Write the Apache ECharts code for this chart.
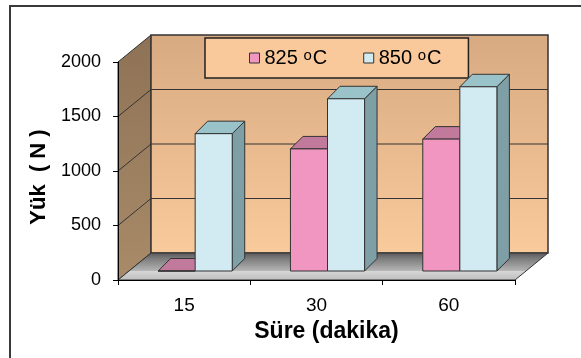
<!DOCTYPE html>
<html>
<head>
<meta charset="utf-8">
<script src="https://cdn.jsdelivr.net/npm/echarts@6/dist/echarts.min.js"></script>
<style>html,body{margin:0;padding:0;background:#fff}#c{width:581px;height:358px}</style>
</head>
<body>
<div id="c"></div>
<script>
const categories = ['15', '30', '60'];
const load825 = [0, 1120, 1210];
const load850 = [1260, 1580, 1690];
const yTicks = [0, 500, 1000, 1500, 2000];
const seriesNames = ['825 °C', '850 °C'];

// styling constants (3D look)
const WALL_DEPTH = [33, -27];
const BAR_SHIFT = [11, -9];
const BAR_DEPTH = [12.5, -12.5];
const BAR_FRAC = 0.28;
const FONT = '"Liberation Sans", Arial, sans-serif';
const EDGE = '#333';

const G = echarts.graphic.LinearGradient;

function renderWalls(params, api) {
  const cs = params.coordSys;
  const x0 = cs.x, x1 = cs.x + cs.width;
  const yBase = api.coord([0, yTicks[0]])[1];
  const yTop = api.coord([0, yTicks[yTicks.length - 1]])[1];
  const dx = WALL_DEPTH[0], dy = WALL_DEPTH[1];
  const ch = [];
  ch.push({type: 'polygon', shape: {points: [[x0, yTop], [x0 + dx, yTop + dy], [x0 + dx, yBase + dy], [x0, yBase]]},
    style: {fill: new G(0, 0, 0, 1, [{offset: 0, color: '#8e7255'}, {offset: 1, color: '#a98b69'}]), stroke: EDGE, lineWidth: 1}});
  ch.push({type: 'polygon', shape: {points: [[x0 + dx, yTop + dy], [x1 + dx, yTop + dy], [x1 + dx, yBase + dy], [x0 + dx, yBase + dy]]},
    style: {fill: new G(0, 0, 0, 1, [{offset: 0, color: '#d8aa82'}, {offset: 1, color: '#f9ca9b'}]), stroke: EDGE, lineWidth: 1.5}});
  yTicks.slice(1, -1).forEach(function (t) {
    const y = api.coord([0, t])[1];
    ch.push({type: 'polyline', shape: {points: [[x0, y], [x0 + dx, y + dy], [x1 + dx, y + dy]]},
      style: {fill: null, stroke: EDGE, lineWidth: 1}});
  });
  ch.push({type: 'polygon', shape: {points: [[x0, yBase], [x1, yBase], [x1 + dx, yBase + dy], [x0 + dx, yBase + dy]]},
    style: {fill: new G(0, 0, 0, 1, [
      {offset: 0, color: '#555555'}, {offset: 0.2, color: '#7a7a7a'}, {offset: 0.64, color: '#b2b2b2'},
      {offset: 0.67, color: '#d6d6d6'}, {offset: 1, color: '#bdbdbd'}]), stroke: EDGE, lineWidth: 1}});
  return {type: 'group', children: ch};
}

function makeBar(side, col) {
  return function (params, api) {
    const i = api.value(0), v = api.value(1);
    const c = api.coord([i, 0]);
    const t = api.coord([i, v]);
    const bw = api.size([1, 0])[0] * BAR_FRAC;
    const left = c[0] + BAR_SHIFT[0] + (side < 0 ? -bw : 0);
    const right = left + bw;
    const yb = c[1] + BAR_SHIFT[1];
    const yt = t[1] + BAR_SHIFT[1];
    const ddx = BAR_DEPTH[0], ddy = BAR_DEPTH[1];
    const st = function (f) { return {fill: f, stroke: EDGE, lineWidth: 1}; };
    return {type: 'group', children: [
      {type: 'polygon', shape: {points: [[right, yt], [right + ddx, yt + ddy], [right + ddx, yb + ddy], [right, yb]]}, style: st(col.side)},
      {type: 'polygon', shape: {points: [[left, yt], [left + ddx, yt + ddy], [right + ddx, yt + ddy], [right, yt]]}, style: st(col.top)},
      {type: 'polygon', shape: {points: [[left, yt], [right, yt], [right, yb], [left, yb]]}, style: st(col.front)}
    ]};
  };
}

const pinkCol = {front: '#f096c0', top: '#c27a9c', side: '#a86585'};
const blueCol = {front: '#d2ebf2', top: '#9ac2c9', side: '#7e9fa6'};

const chart = echarts.init(document.getElementById('c'), null, {renderer: 'canvas'});
chart.setOption({
  backgroundColor: '#ffffff',
  animation: false,
  graphic: [{type: 'rect', z: 0, shape: {x: 10, y: 6, width: 700, height: 500}, style: {fill: null, stroke: '#3a3a3a', lineWidth: 2}}],
  grid: {left: 118, top: 62, right: 66, bottom: 78, containLabel: false},
  legend: {
    data: seriesNames, left: 205, top: 38, orient: 'horizontal',
    padding: [10, 27, 10, 44], itemGap: 36, itemWidth: 10, itemHeight: 10, icon: 'rect',
    backgroundColor: '#f9c99b', borderColor: '#222', borderWidth: 1.5,
    itemStyle: {borderColor: EDGE, borderWidth: 1},
    formatter: function (name) { return name.replace(' °C', '') + ' {s|o}C'; },
    textStyle: {fontSize: 20, color: '#000', fontFamily: FONT,
      rich: {s: {fontSize: 15, fontFamily: FONT, color: '#000', verticalAlign: 'top', lineHeight: 11, padding: [0, 1, 0, 0]}}}
  },
  xAxis: {
    type: 'category', data: categories, z: 10,
    axisLine: {lineStyle: {color: '#000', width: 1}},
    axisTick: {show: true, length: 5, lineStyle: {color: '#000'}},
    axisLabel: {fontSize: 19, color: '#000', fontFamily: FONT, margin: 16},
    name: 'Süre (dakika)', nameLocation: 'middle', nameGap: 29,
    nameTextStyle: {fontSize: 23, fontWeight: 'bold', color: '#000', fontFamily: FONT, padding: [0, 0, 0, 20]}
  },
  yAxis: {
    type: 'value', min: 0, max: 2000, interval: 500, z: 10,
    axisLine: {show: true, lineStyle: {color: '#000', width: 1}},
    axisTick: {show: true, length: 5, lineStyle: {color: '#000'}},
    splitLine: {show: false},
    axisLabel: {fontSize: 18, color: '#000', fontFamily: FONT, margin: 17, formatter: function (v) { return String(v); }},
    name: 'Yük  ( N )', nameLocation: 'middle', nameGap: 65,
    nameTextStyle: {fontSize: 22, fontWeight: 'bold', color: '#000', fontFamily: FONT, padding: [0, 12, 0, 0]}
  },
  series: [
    {type: 'custom', silent: true, z: 1, clip: false, renderItem: renderWalls, data: [[0, 0]], encode: {x: 0, y: 1}},
    {type: 'custom', name: seriesNames[0], z: 3, clip: false, renderItem: makeBar(-1, pinkCol),
      itemStyle: {color: pinkCol.front}, encode: {x: 0, y: 1},
      data: load825.map(function (v, i) { return [i, v]; })},
    {type: 'custom', name: seriesNames[1], z: 4, clip: false, renderItem: makeBar(1, blueCol),
      itemStyle: {color: blueCol.front}, encode: {x: 0, y: 1},
      data: load850.map(function (v, i) { return [i, v]; })}
  ]
});
</script>
</body>
</html>
